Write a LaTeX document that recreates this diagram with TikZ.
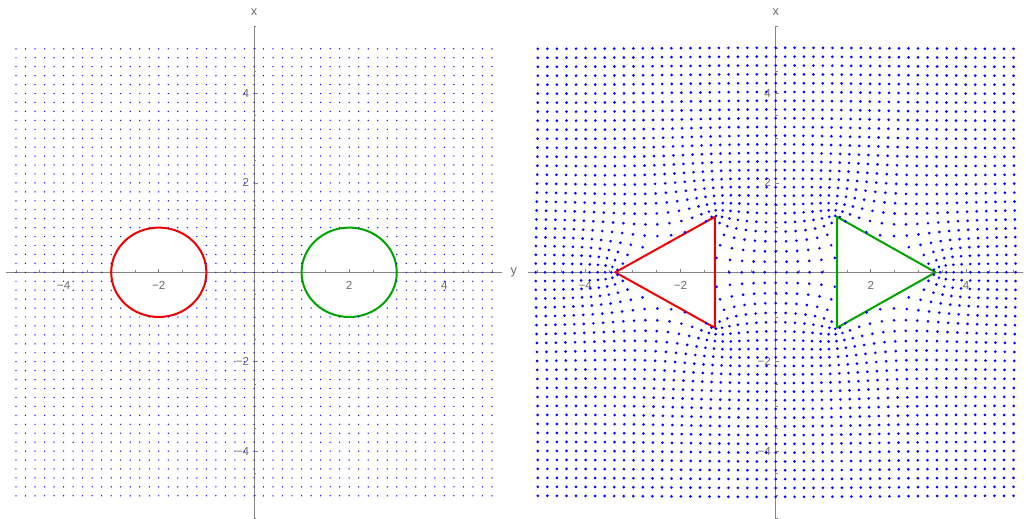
\documentclass[tikz,border=0pt]{standalone}
\usepackage{fontspec}
\setmainfont{Liberation Sans}
\definecolor{achsgrau}{HTML}{858585}
\definecolor{schrift}{HTML}{6B6B6B}
\definecolor{punkt}{HTML}{0000FF}
\definecolor{rot}{HTML}{F00000}
\definecolor{gruen}{HTML}{00A400}
\newcommand\skf{\fontsize{8.7}{10}\selectfont}
\newcommand\buchf{\fontsize{9.5}{11}\selectfont}
% Achsen mit Teilstrichen (alle 0.5, lange bei den Zahlen), #1 = Vorsilbe der Knotennamen
\newcommand\achsenkreuz[1]{%
  \draw[achse] (-5.2,0) -- (5.2,0) (0,-5.6) -- (0,5.5);
  \foreach \t in {-5,-4.5,...,5} {\draw[achse] (\t,0) -- ++(0pt,1.5pt);}
  \foreach \t in {-5.5,-5,...,5.5} {\draw[achse] (0,\t) -- ++(1.5pt,0pt);}
  \foreach \t/\s in {-4/−4,-2/−2,2/2,4/4} {
    \draw[achse] (\t,0) -- ++(0pt,2.7pt) (0,\t) -- ++(2.7pt,0pt);
    \node[skala] (#1h\t) at (\t,-0.285) {\s};
    \node[skala,anchor=east] (#1v\t) at (-0.095,\t) {\s};}
  \node[skala,font=\buchf] (#1x) at (0,5.83) {x};}

\begin{document}
\begin{tikzpicture}[x=35.7pt,y=33.525pt]
\useasboundingbox (-5.336,-5.519) rectangle (16.366,6.092);
\tikzset{achse/.style={achsgrau,line width=0.6pt},
  skala/.style={inner sep=0,font=\skf,text=schrift},
  punktfein/.style={fill=punkt},
  punktgrob/.style={fill=punkt},
  rand/.style={line width=1.5pt,line join=round}}

% ---- Links: Gitter 0.2, Kreise um (-2,0) und (2,0) --------------------------
\begin{scope}
\achsenkreuz{l}
\node[skala,font=\buchf] (ly) at (5.46,0) {y};
\draw[rand,rot] (-2,0) circle[radius=1];
\draw[rand,gruen] (2,0) circle[radius=1];
% Punkte innerhalb der Kreise fallen weg
\foreach \i in {0,...,50} {\foreach \j in {0,...,50} {
  \pgfmathsetmacro\px{0.2*\i-5}
  \pgfmathsetmacro\py{0.2*\j-5}
  \pgfmathparse{and((\px+2)*(\px+2)+(\py)*(\py)>1.001,(\px-2)*(\px-2)+(\py)*(\py)>1.001)}
  \ifnum\pgfmathresult=1 \fill[punktfein] (\px,\py) circle[radius=0.55pt];\fi}}
\end{scope}

% ---- Rechts: dasselbe Gitter, Kreise auf Dreiecke abgebildet ----------------
\begin{scope}[shift={(10.96,0)}]
\achsenkreuz{r}
\draw[rand,rot] (-3.37,0) -- (-1.28,1.24) -- (-1.28,-1.24) -- cycle;
\draw[rand,gruen] (3.36,0) -- (1.29,1.24) -- (1.29,-1.24) -- cycle;
% Verschiebung je Loch: 0.02 w/|w|^2 + 1.02 (a/w^2 + b/w^5 + d/w^8), Spitze links bzw. rechts
\foreach \i in {0,...,50} {\foreach \j in {0,...,50} {
  \pgfmathsetmacro\px{0.2*\i-5}
  \pgfmathsetmacro\py{0.2*\j-5}
  \pgfmathsetmacro\ax{\px+2}
  \pgfmathsetmacro\bx{\px-2}
  \pgfmathsetmacro\ra{(\ax)*(\ax)+(\py)*(\py)}
  \pgfmathsetmacro\rb{(\bx)*(\bx)+(\py)*(\py)}
  \pgfmathparse{and(\ra>1.001,\rb>1.001)}
  \ifnum\pgfmathresult=1
    \pgfmathsetmacro\fa{atan2(\py,\ax)}
    \pgfmathsetmacro\fb{atan2(\py,\bx)}
    \pgfmathsetmacro\ua{1/\ra}
    \pgfmathsetmacro\ub{1/\rb}
    \pgfmathsetmacro\va{\ua*\ua*sqrt(\ua)}
    \pgfmathsetmacro\vb{\ub*\ub*sqrt(\ub)}
    \pgfmathsetmacro\za{\ua*\ua*\ua*\ua}
    \pgfmathsetmacro\zb{\ub*\ub*\ub*\ub}
    \pgfmathsetmacro\qx{\px+0.02*(\ax)*\ua+0.02*(\bx)*\ub
      -0.34*\ua*cos(2*\fa)+0.0227*\va*cos(5*\fa)-0.0063*\za*cos(8*\fa)
      +0.34*\ub*cos(2*\fb)+0.0227*\vb*cos(5*\fb)+0.0063*\zb*cos(8*\fb)}
    \pgfmathsetmacro\qy{\py+0.02*(\py)*(\ua+\ub)
      +0.34*\ua*sin(2*\fa)-0.0227*\va*sin(5*\fa)+0.0063*\za*sin(8*\fa)
      -0.34*\ub*sin(2*\fb)-0.0227*\vb*sin(5*\fb)-0.0063*\zb*sin(8*\fb)}
    \fill[punktgrob] (\qx,\qy) circle[radius=1.1pt];
  \fi}}
\end{scope}
\end{tikzpicture}
\end{document}
